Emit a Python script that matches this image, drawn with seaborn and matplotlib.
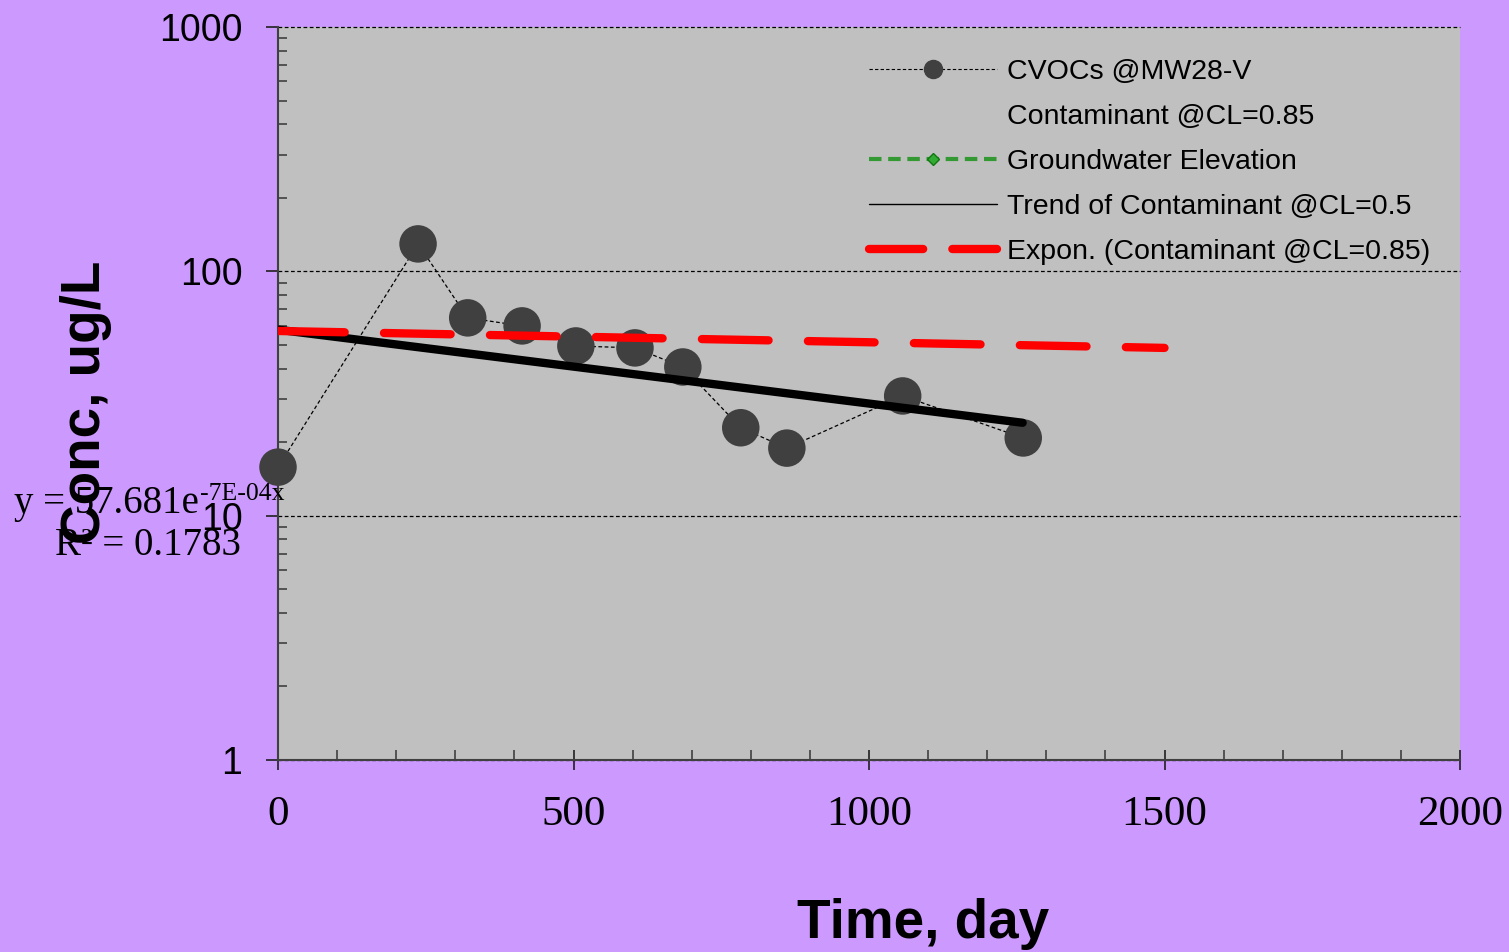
import numpy as np
import matplotlib
matplotlib.use("Agg")
import matplotlib.pyplot as plt
from matplotlib.lines import Line2D
from matplotlib.ticker import FixedLocator, LogLocator, NullFormatter, FixedFormatter
import seaborn as sns

# ---------------- data ----------------
days = [0, 237, 321, 413, 504, 604, 685, 783, 861, 1057, 1261]
conc = [15.8, 129.5, 64.5, 59.8, 49.5, 48.6, 40.6, 22.9, 18.9, 30.9, 20.8]

trend_days = [0, 1260]
trend_conc = [57.7, 24.0]

expon_days = [0, 1500]
expon_conc = [57.0, 48.6]

x_ticks = [0, 500, 1000, 1500, 2000]
y_ticks = [1, 10, 100, 1000]
y_tick_labels = ["1", "10", "100", "1000"]

legend_labels = ["CVOCs @MW28-V", "Contaminant @CL=0.85", "Groundwater Elevation",
                 "Trend of Contaminant @CL=0.5", "Expon. (Contaminant @CL=0.85)"]
eq_text = "y = 57.681e"
eq_exp = "-7E-04x"
r2_text = "R\u00b2 = 0.1783"

# ---------------- style ----------------
sns.set_style("white")
plt.rcParams['font.family'] = ['Liberation Sans', 'DejaVu Sans']
plt.rcParams['text.color'] = 'black'
plt.rcParams['xtick.color'] = 'black'
plt.rcParams['ytick.color'] = 'black'
plt.rcParams['axes.labelcolor'] = 'black'

W, H = 1509, 952
fig = plt.figure(figsize=(W / 100, H / 100), dpi=100, facecolor="#CC99FF")
ax = fig.add_axes([278 / W, 1 - 760 / H, (1460 - 278) / W, (760 - 27) / H])
ax.set_facecolor("#C0C0C0")

# connecting dotted line
sns.lineplot(x=days, y=conc, ax=ax, color="black", lw=0.9, linestyle=(0, (3, 2)),
             zorder=2, sort=False)
# markers
sns.scatterplot(x=days, y=conc, ax=ax, s=27 ** 2, color="#404040", edgecolor="none",
                zorder=3, clip_on=False)
# black trend
sns.lineplot(x=trend_days, y=trend_conc, ax=ax, color="black", lw=6,
             solid_capstyle="round", zorder=4)
# red exponential
sns.lineplot(x=expon_days, y=expon_conc, ax=ax, color="#FF0000", lw=6,
             linestyle=(0, (8.0, 4.72)), dash_capstyle="round", zorder=5)

ax.set_yscale("log")
ax.set_xlim(0, 2000)
ax.set_ylim(1, 1000)

for s in ["top", "right"]:
    ax.spines[s].set_visible(False)
for s in ["left", "bottom"]:
    ax.spines[s].set_color("#404040")
    ax.spines[s].set_linewidth(1.5)

ax.xaxis.set_major_locator(FixedLocator(x_ticks))
ax.xaxis.set_minor_locator(FixedLocator(np.arange(0, 2001, 100)))
ax.yaxis.set_major_locator(FixedLocator(y_ticks))
ax.yaxis.set_major_formatter(FixedFormatter(y_tick_labels))
ax.yaxis.set_minor_locator(LogLocator(base=10, subs=np.arange(2, 10)))
ax.yaxis.set_minor_formatter(NullFormatter())

ax.tick_params(which="both", bottom=True, left=True, top=False, right=False)
ax.tick_params(axis="x", which="major", direction="inout", length=15, width=1.2,
               color="#202020", pad=18, labelsize=31, labelcolor="black")
ax.tick_params(axis="x", which="minor", direction="in", length=7, width=1.2,
               color="#404040")
ax.tick_params(axis="y", which="major", direction="out", length=8.6, width=1.2,
               color="#202020", pad=17, labelsize=27, labelcolor="black")
ax.tick_params(axis="y", which="minor", direction="in", length=6.5, width=1.2,
               color="#404040")
for lab in ax.get_xticklabels():
    lab.set_fontfamily("Liberation Serif")

ax.yaxis.grid(True, which="major", color="black", lw=0.9, linestyle=(0, (3, 2)))
ax.xaxis.grid(False)
for gl in ax.get_ygridlines():
    gl.set_clip_on(False)
ax.set_xlabel("")
ax.set_ylabel("")

# legend
handles = [
    Line2D([], [], color="black", lw=0.8, linestyle=(0, (3, 2)), marker="o",
           markersize=13, markerfacecolor="#404040", markeredgecolor="#404040"),
    Line2D([], [], color="none", lw=0),
    Line2D([], [], color="#339933", lw=3, linestyle=(0, (3, 1.6)), marker="D",
           markersize=6, markerfacecolor="#33AA33", markeredgecolor="#117711"),
    Line2D([], [], color="black", lw=1),
    Line2D([], [], color="#FF0000", lw=6, linestyle=(0, (6.5, 3.5)),
           dash_capstyle="round"),
]
leg = ax.legend(handles, legend_labels, loc="upper left",
                bbox_to_anchor=(869 / W, 1 - 59 / H), bbox_transform=fig.transFigure,
                frameon=False, fontsize=20.5, handlelength=4.5, handletextpad=0.36,
                labelspacing=0.67, borderpad=0, borderaxespad=0, numpoints=1)
for t in leg.get_texts():
    t.set_color("black")

# axis titles
fig.text(100 / W, 1 - 402 / H, "Conc, ug/L", rotation=90, rotation_mode="anchor",
         ha="center", va="baseline", fontsize=39.5, fontweight="bold", color="black")
fig.text(923 / W, 1 - 938 / H, "Time, day", ha="center", va="baseline",
         fontsize=39.5, fontweight="bold", color="black")

# trend equation
fig.text(14 / W, 1 - 513 / H, eq_text, ha="left", va="baseline",
         fontsize=28, family="Liberation Serif", color="black")
fig.text(200 / W, 1 - 500 / H, eq_exp, ha="left", va="baseline",
         fontsize=18.5, family="Liberation Serif", color="black")
fig.text(55 / W, 1 - 555 / H, r2_text, ha="left", va="baseline",
         fontsize=28, family="Liberation Serif", color="black")

fig.savefig("out.png", dpi=100, facecolor=fig.get_facecolor())
